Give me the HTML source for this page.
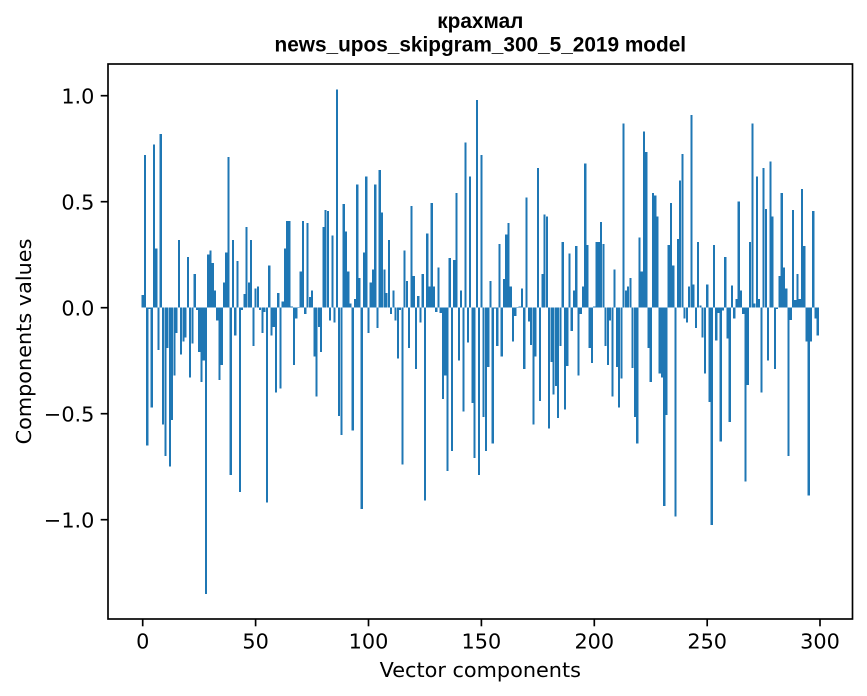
<!DOCTYPE html>
<html><head><meta charset="utf-8"><style>
html,body{margin:0;padding:0;background:#fff;}
svg{display:block;}
.t{font-family:"DejaVu Sans","Liberation Sans",sans-serif;font-size:20.8px;fill:#000;}
.ti{font-family:"Liberation Sans","DejaVu Sans",sans-serif;font-size:20.8px;font-weight:bold;fill:#000;}
</style></head><body>
<svg width="867" height="696" viewBox="0 0 867 696" xmlns="http://www.w3.org/2000/svg">
<rect x="0" y="0" width="867" height="696" fill="#fff"/>
<g transform="translate(142.7,307.7) scale(2.2577,-212)" fill="#1f77b4" shape-rendering="crispEdges">
<g transform="translate(-.05,0)">
<rect x="-.4" y="0" width=".95" height=".06"/>
<rect x=".6" y="0" width=".95" height=".72"/>
<rect x="1.6" y="-.65" width=".95" height=".65"/>
<rect x="2.6" y="-.005" width=".95" height=".005"/>
<rect x="3.6" y="-.47" width=".95" height=".47"/>
<rect x="4.6" y="0" width=".95" height=".77"/>
<rect x="5.6" y="0" width=".95" height=".28"/>
<rect x="6.6" y="-.2" width=".95" height=".2"/>
<rect x="7.6" y="0" width=".95" height=".82"/>
<rect x="8.6" y="-.55" width=".95" height=".55"/>
<rect x="9.6" y="-.7" width=".95" height=".7"/>
<rect x="10.6" y="-.19" width=".95" height=".19"/>
<rect x="11.6" y="-.75" width=".95" height=".75"/>
<rect x="12.6" y="-.53" width=".95" height=".53"/>
<rect x="13.6" y="-.32" width=".95" height=".32"/>
<rect x="14.6" y="-.12" width=".95" height=".12"/>
<rect x="15.6" y="0" width=".95" height=".32"/>
<rect x="16.6" y="-.22" width=".95" height=".22"/>
<rect x="17.6" y="-.16" width=".95" height=".16"/>
<rect x="18.6" y="-.14" width=".95" height=".14"/>
<rect x="19.6" y="0" width=".95" height=".24"/>
<rect x="20.6" y="-.33" width=".95" height=".33"/>
<rect x="21.6" y="-.17" width=".95" height=".17"/>
<rect x="22.6" y="0" width=".95" height=".16"/>
<rect x="23.6" y="-.01" width=".95" height=".01"/>
<rect x="24.6" y="-.21" width=".95" height=".21"/>
<rect x="25.6" y="-.35" width=".95" height=".35"/>
<rect x="26.6" y="-.25" width=".95" height=".25"/>
<rect x="27.6" y="-1.35" width=".95" height="1.35"/>
<rect x="28.6" y="0" width=".95" height=".25"/>
<rect x="29.6" y="0" width=".95" height=".27"/>
<rect x="30.6" y="0" width=".95" height=".21"/>
<rect x="31.6" y="0" width=".95" height=".08"/>
<rect x="32.6" y="-.06" width=".95" height=".06"/>
<rect x="33.6" y="-.34" width=".95" height=".34"/>
<rect x="34.6" y="-.27" width=".95" height=".27"/>
<rect x="35.6" y="0" width=".95" height=".12"/>
<rect x="36.6" y="0" width=".95" height=".26"/>
<rect x="37.6" y="0" width=".95" height=".71"/>
<rect x="38.6" y="-.79" width=".95" height=".79"/>
<rect x="39.6" y="0" width=".95" height=".32"/>
<rect x="40.6" y="-.13" width=".95" height=".13"/>
<rect x="41.6" y="0" width=".95" height=".22"/>
<rect x="42.6" y="-.87" width=".95" height=".87"/>
<rect x="43.6" y="-.01" width=".95" height=".01"/>
<rect x="44.6" y="0" width=".95" height=".065"/>
<rect x="45.6" y="0" width=".95" height=".38"/>
<rect x="46.6" y="0" width=".95" height=".12"/>
<rect x="47.6" y="0" width=".95" height=".32"/>
<rect x="48.6" y="-.18" width=".95" height=".18"/>
<rect x="49.6" y="0" width=".95" height=".09"/>
<rect x="50.6" y="0" width=".95" height=".1"/>
<rect x="51.6" y="-.01" width=".95" height=".01"/>
<rect x="52.6" y="-.12" width=".95" height=".12"/>
<rect x="53.6" y="-.02" width=".95" height=".02"/>
<rect x="54.6" y="-.92" width=".95" height=".92"/>
<rect x="55.6" y="0" width=".95" height=".2"/>
<rect x="56.6" y="-.13" width=".95" height=".13"/>
<rect x="57.6" y="-.09" width=".95" height=".09"/>
<rect x="58.6" y="-.4" width=".95" height=".4"/>
<rect x="59.6" y="0" width=".95" height=".07"/>
<rect x="60.6" y="-.38" width=".95" height=".38"/>
<rect x="61.6" y="0" width=".95" height=".03"/>
<rect x="62.6" y="0" width=".95" height=".28"/>
<rect x="63.6" y="0" width=".95" height=".41"/>
<rect x="64.6" y="0" width=".95" height=".41"/>
<rect x="65.6" y="0" width=".95" height=".005"/>
<rect x="66.6" y="-.27" width=".95" height=".27"/>
<rect x="67.6" y="-.05" width=".95" height=".05"/>
<rect x="68.6" y="0" width=".95" height=".003"/>
<rect x="69.6" y="0" width=".95" height=".17"/>
<rect x="70.6" y="0" width=".95" height=".41"/>
<rect x="71.6" y="-.03" width=".95" height=".03"/>
<rect x="72.6" y="0" width=".95" height=".4"/>
<rect x="73.6" y="0" width=".95" height=".05"/>
<rect x="74.6" y="0" width=".95" height=".08"/>
<rect x="75.6" y="-.23" width=".95" height=".23"/>
<rect x="76.6" y="-.42" width=".95" height=".42"/>
<rect x="77.6" y="-.09" width=".95" height=".09"/>
<rect x="78.6" y="-.21" width=".95" height=".21"/>
<rect x="79.6" y="0" width=".95" height=".38"/>
<rect x="80.6" y="0" width=".95" height=".46"/>
<rect x="81.6" y="0" width=".95" height=".455"/>
<rect x="82.6" y="-.06" width=".95" height=".06"/>
<rect x="83.6" y="0" width=".95" height=".34"/>
<rect x="84.6" y="-.07" width=".95" height=".07"/>
<rect x="85.6" y="0" width=".95" height="1.03"/>
<rect x="86.6" y="-.51" width=".95" height=".51"/>
<rect x="87.6" y="-.6" width=".95" height=".6"/>
<rect x="88.6" y="0" width=".95" height=".49"/>
<rect x="89.6" y="0" width=".95" height=".36"/>
<rect x="90.6" y="0" width=".95" height=".17"/>
<rect x="91.6" y="0" width=".95" height=".02"/>
<rect x="92.6" y="-.58" width=".95" height=".58"/>
<rect x="93.6" y="0" width=".95" height=".04"/>
<rect x="94.6" y="0" width=".95" height=".58"/>
<rect x="95.6" y="0" width=".95" height=".14"/>
<rect x="96.6" y="-.95" width=".95" height=".95"/>
<rect x="97.6" y="0" width=".95" height=".26"/>
<rect x="98.6" y="0" width=".95" height=".62"/>
<rect x="99.6" y="-.12" width=".95" height=".12"/>
<rect x="100.6" y="0" width=".95" height=".12"/>
<rect x="101.6" y="0" width=".95" height=".18"/>
<rect x="102.6" y="0" width=".95" height=".58"/>
<rect x="103.6" y="-.095" width=".95" height=".095"/>
<rect x="104.6" y="0" width=".95" height=".65"/>
<rect x="105.6" y="0" width=".95" height=".45"/>
<rect x="106.6" y="0" width=".95" height=".18"/>
<rect x="107.6" y="0" width=".95" height=".07"/>
<rect x="108.6" y="0" width=".95" height=".32"/>
<rect x="109.6" y="-.03" width=".95" height=".03"/>
<rect x="110.6" y="0" width=".95" height=".08"/>
<rect x="111.6" y="-.06" width=".95" height=".06"/>
<rect x="112.6" y="-.24" width=".95" height=".24"/>
<rect x="113.6" y="-.01" width=".95" height=".01"/>
<rect x="114.6" y="-.74" width=".95" height=".74"/>
<rect x="115.6" y="0" width=".95" height=".27"/>
<rect x="116.6" y="0" width=".95" height=".125"/>
<rect x="117.6" y="-.19" width=".95" height=".19"/>
<rect x="118.6" y="0" width=".95" height=".48"/>
<rect x="119.6" y="0" width=".95" height=".15"/>
<rect x="120.6" y="-.29" width=".95" height=".29"/>
<rect x="121.6" y="0" width=".95" height=".055"/>
<rect x="122.6" y="-.07" width=".95" height=".07"/>
<rect x="123.6" y="0" width=".95" height=".16"/>
<rect x="124.6" y="-.91" width=".95" height=".91"/>
<rect x="125.6" y="0" width=".95" height=".35"/>
<rect x="126.6" y="0" width=".95" height=".1"/>
<rect x="127.6" y="0" width=".95" height=".495"/>
<rect x="128.6" y="0" width=".95" height=".1"/>
<rect x="129.6" y="-.02" width=".95" height=".02"/>
<rect x="130.6" y="0" width=".95" height=".19"/>
<rect x="131.6" y="-.025" width=".95" height=".025"/>
<rect x="132.6" y="-.43" width=".95" height=".43"/>
<rect x="133.6" y="-.32" width=".95" height=".32"/>
<rect x="134.6" y="-.77" width=".95" height=".77"/>
<rect x="135.6" y="0" width=".95" height=".235"/>
<rect x="136.6" y="-.675" width=".95" height=".675"/>
<rect x="137.6" y="0" width=".95" height=".225"/>
<rect x="138.6" y="0" width=".95" height=".54"/>
<rect x="139.6" y="-.25" width=".95" height=".25"/>
<rect x="140.6" y="0" width=".95" height=".08"/>
<rect x="141.6" y="-.49" width=".95" height=".49"/>
<rect x="142.6" y="0" width=".95" height=".78"/>
<rect x="143.6" y="-.165" width=".95" height=".165"/>
<rect x="144.6" y="0" width=".95" height=".62"/>
<rect x="145.6" y="-.45" width=".95" height=".45"/>
<rect x="146.6" y="-.71" width=".95" height=".71"/>
<rect x="147.6" y="0" width=".95" height=".98"/>
<rect x="148.6" y="-.79" width=".95" height=".79"/>
<rect x="149.6" y="0" width=".95" height=".72"/>
<rect x="150.6" y="-.515" width=".95" height=".515"/>
<rect x="151.6" y="-.675" width=".95" height=".675"/>
<rect x="152.6" y="-.28" width=".95" height=".28"/>
<rect x="153.6" y="0" width=".95" height=".125"/>
<rect x="154.6" y="-.64" width=".95" height=".64"/>
<rect x="155.6" y="-.004" width=".95" height=".004"/>
<rect x="156.6" y="-.18" width=".95" height=".18"/>
<rect x="157.6" y="0" width=".95" height=".3"/>
<rect x="158.6" y="-.23" width=".95" height=".23"/>
<rect x="159.6" y="0" width=".95" height=".135"/>
<rect x="160.6" y="0" width=".95" height=".345"/>
<rect x="161.6" y="0" width=".95" height=".4"/>
<rect x="162.6" y="0" width=".95" height=".1"/>
<rect x="163.6" y="-.16" width=".95" height=".16"/>
<rect x="164.6" y="-.04" width=".95" height=".04"/>
<rect x="165.6" y="0" width=".95" height=".003"/>
<rect x="166.6" y="0" width=".95" height=".005"/>
<rect x="167.6" y="0" width=".95" height=".09"/>
<rect x="168.6" y="-.29" width=".95" height=".29"/>
<rect x="169.6" y="0" width=".95" height=".52"/>
<rect x="170.6" y="-.065" width=".95" height=".065"/>
<rect x="171.6" y="-.175" width=".95" height=".175"/>
<rect x="172.6" y="-.55" width=".95" height=".55"/>
<rect x="173.6" y="-.23" width=".95" height=".23"/>
<rect x="174.6" y="0" width=".95" height=".66"/>
<rect x="175.6" y="-.44" width=".95" height=".44"/>
<rect x="176.6" y="0" width=".95" height=".16"/>
<rect x="177.6" y="0" width=".95" height=".44"/>
<rect x="178.6" y="0" width=".95" height=".43"/>
<rect x="179.6" y="-.57" width=".95" height=".57"/>
<rect x="180.6" y="-.255" width=".95" height=".255"/>
<rect x="181.6" y="-.41" width=".95" height=".41"/>
<rect x="182.6" y="-.37" width=".95" height=".37"/>
<rect x="183.6" y="-.52" width=".95" height=".52"/>
<rect x="184.6" y="-.18" width=".95" height=".18"/>
<rect x="185.6" y="0" width=".95" height=".31"/>
<rect x="186.6" y="-.48" width=".95" height=".48"/>
<rect x="187.6" y="-.275" width=".95" height=".275"/>
<rect x="188.6" y="0" width=".95" height=".255"/>
<rect x="189.6" y="-.11" width=".95" height=".11"/>
<rect x="190.6" y="0" width=".95" height=".08"/>
<rect x="191.6" y="0" width=".95" height=".29"/>
<rect x="192.6" y="-.32" width=".95" height=".32"/>
<rect x="193.6" y="-.03" width=".95" height=".03"/>
<rect x="194.6" y="0" width=".95" height=".1"/>
<rect x="195.6" y="0" width=".95" height=".68"/>
<rect x="196.6" y="0" width=".95" height=".295"/>
<rect x="197.6" y="-.19" width=".95" height=".19"/>
<rect x="198.6" y="-.26" width=".95" height=".26"/>
<rect x="199.6" y="0" width=".95" height=".005"/>
<rect x="200.6" y="0" width=".95" height=".31"/>
<rect x="201.6" y="0" width=".95" height=".31"/>
<rect x="202.6" y="0" width=".95" height=".405"/>
<rect x="203.6" y="0" width=".95" height=".3"/>
<rect x="204.6" y="-.18" width=".95" height=".18"/>
<rect x="205.6" y="-.27" width=".95" height=".27"/>
<rect x="206.6" y="-.06" width=".95" height=".06"/>
<rect x="207.6" y="-.42" width=".95" height=".42"/>
<rect x="208.6" y="0" width=".95" height=".18"/>
<rect x="209.6" y="-.28" width=".95" height=".28"/>
<rect x="210.6" y="-.47" width=".95" height=".47"/>
<rect x="211.6" y="-.335" width=".95" height=".335"/>
<rect x="212.6" y="0" width=".95" height=".87"/>
<rect x="213.6" y="0" width=".95" height=".08"/>
<rect x="214.6" y="0" width=".95" height=".1"/>
<rect x="215.6" y="0" width=".95" height=".14"/>
<rect x="216.6" y="-.285" width=".95" height=".285"/>
<rect x="217.6" y="-.515" width=".95" height=".515"/>
<rect x="218.6" y="-.64" width=".95" height=".64"/>
<rect x="219.6" y="0" width=".95" height=".33"/>
<rect x="220.6" y="0" width=".95" height=".17"/>
<rect x="221.6" y="0" width=".95" height=".83"/>
<rect x="222.6" y="0" width=".95" height=".735"/>
<rect x="223.6" y="-.19" width=".95" height=".19"/>
<rect x="224.6" y="-.35" width=".95" height=".35"/>
<rect x="225.6" y="0" width=".95" height=".54"/>
<rect x="226.6" y="0" width=".95" height=".53"/>
<rect x="227.6" y="0" width=".95" height=".43"/>
<rect x="228.6" y="-.31" width=".95" height=".31"/>
<rect x="229.6" y="-.33" width=".95" height=".33"/>
<rect x="230.6" y="-.935" width=".95" height=".935"/>
<rect x="231.6" y="-.505" width=".95" height=".505"/>
<rect x="232.6" y="0" width=".95" height=".295"/>
<rect x="233.6" y="0" width=".95" height=".495"/>
<rect x="234.6" y="0" width=".95" height=".2"/>
<rect x="235.6" y="-.985" width=".95" height=".985"/>
<rect x="236.6" y="0" width=".95" height=".325"/>
<rect x="237.6" y="0" width=".95" height=".6"/>
<rect x="238.6" y="0" width=".95" height=".725"/>
<rect x="239.6" y="-.05" width=".95" height=".05"/>
<rect x="240.6" y="-.07" width=".95" height=".07"/>
<rect x="241.6" y="0" width=".95" height=".1"/>
<rect x="242.6" y="0" width=".95" height=".91"/>
<rect x="243.6" y="0" width=".95" height=".11"/>
<rect x="244.6" y="-.095" width=".95" height=".095"/>
<rect x="245.6" y="0" width=".95" height=".31"/>
<rect x="246.6" y="0" width=".95" height=".01"/>
<rect x="247.6" y="-.14" width=".95" height=".14"/>
<rect x="248.6" y="-.31" width=".95" height=".31"/>
<rect x="249.6" y="0" width=".95" height=".11"/>
<rect x="250.6" y="-.445" width=".95" height=".445"/>
<rect x="251.6" y="-1.025" width=".95" height="1.025"/>
<rect x="252.6" y="0" width=".95" height=".295"/>
<rect x="253.6" y="-.155" width=".95" height=".155"/>
<rect x="254.6" y="-.025" width=".95" height=".025"/>
<rect x="255.6" y="-.63" width=".95" height=".63"/>
<rect x="256.6" y="-.014" width=".95" height=".014"/>
<rect x="257.6" y="0" width=".95" height=".24"/>
<rect x="258.6" y="-.146" width=".95" height=".146"/>
<rect x="259.6" y="-.54" width=".95" height=".54"/>
<rect x="260.6" y="0" width=".95" height=".105"/>
<rect x="261.6" y="-.05" width=".95" height=".05"/>
<rect x="262.6" y="0" width=".95" height=".04"/>
<rect x="263.6" y="0" width=".95" height=".5"/>
<rect x="264.6" y="0" width=".95" height=".08"/>
<rect x="265.6" y="-.03" width=".95" height=".03"/>
<rect x="266.6" y="-.82" width=".95" height=".82"/>
<rect x="267.6" y="-.365" width=".95" height=".365"/>
<rect x="268.6" y="0" width=".95" height=".31"/>
<rect x="269.6" y="0" width=".95" height=".87"/>
<rect x="270.6" y="0" width=".95" height=".02"/>
<rect x="271.6" y="0" width=".95" height=".62"/>
<rect x="272.6" y="0" width=".95" height=".04"/>
<rect x="273.6" y="-.4" width=".95" height=".4"/>
<rect x="274.6" y="0" width=".95" height=".66"/>
<rect x="275.6" y="0" width=".95" height=".465"/>
<rect x="276.6" y="-.25" width=".95" height=".25"/>
<rect x="277.6" y="0" width=".95" height=".69"/>
<rect x="278.6" y="0" width=".95" height=".43"/>
<rect x="279.6" y="-.29" width=".95" height=".29"/>
<rect x="280.6" y="-.007" width=".95" height=".007"/>
<rect x="281.6" y="0" width=".95" height=".15"/>
<rect x="282.6" y="0" width=".95" height=".54"/>
<rect x="283.6" y="0" width=".95" height=".19"/>
<rect x="284.6" y="0" width=".95" height=".09"/>
<rect x="285.6" y="-.7" width=".95" height=".7"/>
<rect x="286.6" y="-.057" width=".95" height=".057"/>
<rect x="287.6" y="0" width=".95" height=".46"/>
<rect x="288.6" y="0" width=".95" height=".036"/>
<rect x="289.6" y="0" width=".95" height=".16"/>
<rect x="290.6" y="0" width=".95" height=".04"/>
<rect x="291.6" y="0" width=".95" height=".56"/>
<rect x="292.6" y="0" width=".95" height=".29"/>
<rect x="293.6" y="-.16" width=".95" height=".16"/>
<rect x="294.6" y="-.885" width=".95" height=".885"/>
<rect x="295.6" y="-.16" width=".95" height=".16"/>
<rect x="296.6" y="0" width=".95" height=".455"/>
<rect x="297.6" y="-.05" width=".95" height=".05"/>
<rect x="298.6" y="-.13" width=".95" height=".13"/>
</g>
</g>
<rect x="108" y="64" width="744.5" height="555" fill="none" stroke="#000" stroke-width="1.67"/>
<g stroke="#000" stroke-width="1.67">
<line x1="100.7" y1="95.7" x2="108" y2="95.7"/>
<line x1="100.7" y1="201.7" x2="108" y2="201.7"/>
<line x1="100.7" y1="307.7" x2="108" y2="307.7"/>
<line x1="100.7" y1="413.7" x2="108" y2="413.7"/>
<line x1="100.7" y1="519.7" x2="108" y2="519.7"/>
<line x1="142.7" y1="619" x2="142.7" y2="626.3"/>
<line x1="255.6" y1="619" x2="255.6" y2="626.3"/>
<line x1="368.5" y1="619" x2="368.5" y2="626.3"/>
<line x1="481.4" y1="619" x2="481.4" y2="626.3"/>
<line x1="594.3" y1="619" x2="594.3" y2="626.3"/>
<line x1="707.2" y1="619" x2="707.2" y2="626.3"/>
<line x1="820" y1="619" x2="820" y2="626.3"/>
</g>
<g class="t" text-anchor="end">
<text x="94.4" y="103.3">1.0</text>
<text x="94.4" y="209.3">0.5</text>
<text x="94.4" y="315.3">0.0</text>
<text x="94.4" y="421.3">−0.5</text>
<text x="94.4" y="527.3">−1.0</text>
</g>
<g class="t" text-anchor="middle">
<text x="142.7" y="648.5">0</text>
<text x="255.6" y="648.5">50</text>
<text x="368.5" y="648.5">100</text>
<text x="481.4" y="648.5">150</text>
<text x="594.3" y="648.5">200</text>
<text x="707.2" y="648.5">250</text>
<text x="820" y="648.5">300</text>
<text x="480.3" y="677">Vector components</text>
<text transform="translate(31,341.5) rotate(-90)" x="0" y="0">Components values</text>
</g>
<g class="ti" text-anchor="middle">
<text x="480.3" y="28">крахмал</text>
<text x="480.3" y="51.5">news_upos_skipgram_300_5_2019 model</text>
</g>
</svg>
</body></html>
